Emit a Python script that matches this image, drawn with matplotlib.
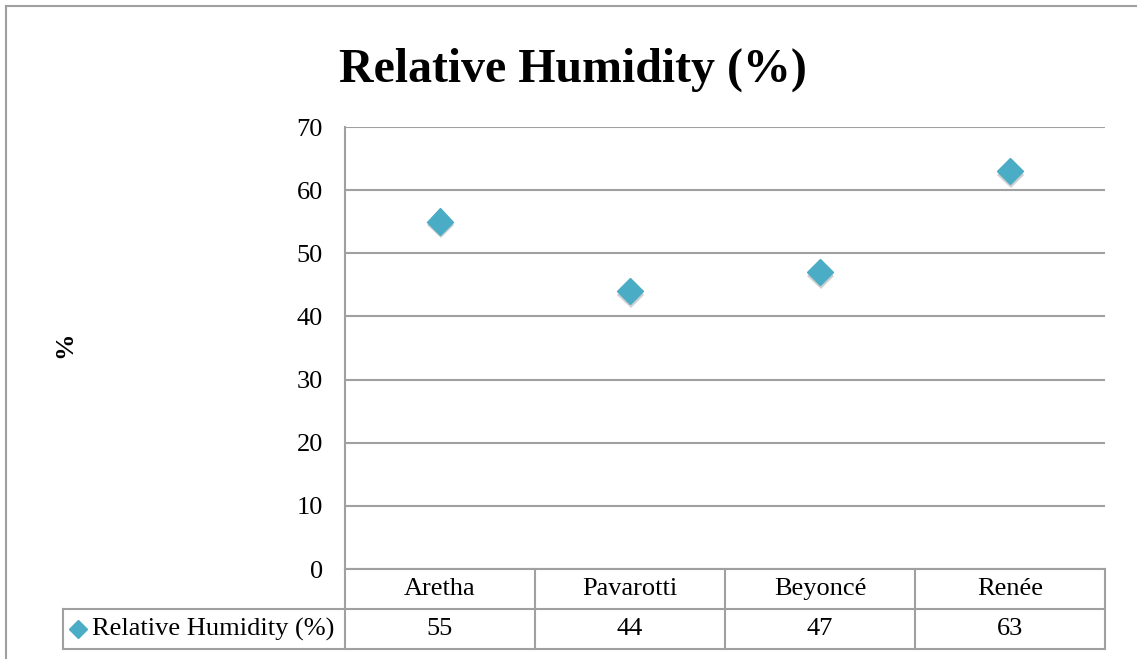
import matplotlib
matplotlib.use('Agg')
import matplotlib.pyplot as plt
import matplotlib.patheffects as pe
from matplotlib.lines import Line2D
from matplotlib.transforms import blended_transform_factory

# Données
singers = ['Aretha', 'Pavarotti', 'Beyoncé', 'Renée']
humidity = [55, 44, 47, 63]
series_name = 'Relative Humidity (%)'
y_ticks = [0, 10, 20, 30, 40, 50, 60, 70]

marker_color = '#4BACC6'
line_color = '#a0a0a0'
serif = ['Liberation Serif', 'DejaVu Serif']
fs = 19

plt.rcParams['font.family'] = serif

fig = plt.figure(figsize=(11.37, 6.59), dpi=100)
ax = fig.add_axes([345 / 1137, 90 / 659, 760 / 1137, 442 / 659])

xs = list(range(len(singers)))
shadow = [pe.SimplePatchShadow(offset=(0.5, -2.5), shadow_rgbFace='#777777', alpha=0.35),
          pe.Normal()]
ax.plot(xs, humidity, linestyle='None', marker='D', markersize=13.5,
        color=marker_color, markeredgecolor=marker_color, path_effects=shadow,
        zorder=3)

ax.set_xlim(-0.5, len(singers) - 0.5)
ax.set_ylim(0, 70)
ax.set_yticks(y_ticks)
ax.set_xticks([])
ax.yaxis.grid(True, color=line_color, linewidth=1.5)
ax.set_axisbelow(True)
ax.tick_params(axis='y', length=0, pad=16, labelsize=fs)
for side in ['top', 'right', 'bottom']:
    ax.spines[side].set_visible(False)
ax.spines['left'].set_color(line_color)
ax.spines['left'].set_linewidth(1.5)

# Tableau de données sous l'axe
tr = blended_transform_factory(ax.transData, ax.transAxes)
row_h = 40 / 442
x_left = -0.5
x_right = len(singers) - 0.5
leg_left = x_left - (345 - 63) / 760 * len(singers)

lines_kw = dict(color=line_color, linewidth=1.5, transform=tr, clip_on=False)
ax.plot([x_left, x_right], [0, 0], **lines_kw)
ax.plot([leg_left, x_right], [-row_h, -row_h], **lines_kw)
ax.plot([leg_left, x_right], [-2 * row_h, -2 * row_h], **lines_kw)
ax.plot([leg_left, leg_left], [-row_h, -2 * row_h], **lines_kw)
for i in range(len(singers) + 1):
    xb = x_left + i
    ax.plot([xb, xb], [0, -2 * row_h], **lines_kw)

for x, name, val in zip(xs, singers, humidity):
    ax.text(x, -row_h / 2, name, transform=tr, ha='center', va='center',
            fontsize=fs)
    ax.text(x, -1.5 * row_h, f'{val}', transform=tr, ha='center', va='center',
            fontsize=fs)

# Légende dans la première cellule
ax.plot([leg_left + 0.08], [-1.5 * row_h], marker='D', markersize=9,
        color=marker_color, transform=tr, clip_on=False, linestyle='None')
ax.text(leg_left + 0.15, -1.5 * row_h, series_name, transform=tr,
        ha='left', va='center', fontsize=fs)

# Titres
fig.text(573 / 1137, 1 - 70 / 659, 'Relative Humidity (%)', ha='center',
         va='center', fontsize=34.5, fontweight='bold')
fig.text(65 / 1137, 1 - 345 / 659, '%', ha='center', va='center',
         fontsize=fs, fontweight='bold', rotation=90)

# Cadre du graphique
fig.add_artist(Line2D([6 / 1137, 1], [1 - 6 / 659, 1 - 6 / 659],
                      color=line_color, linewidth=1.5))
fig.add_artist(Line2D([6 / 1137, 6 / 1137], [0, 1 - 6 / 659],
                      color=line_color, linewidth=1.5))

fig.savefig('out.png', dpi=100)
